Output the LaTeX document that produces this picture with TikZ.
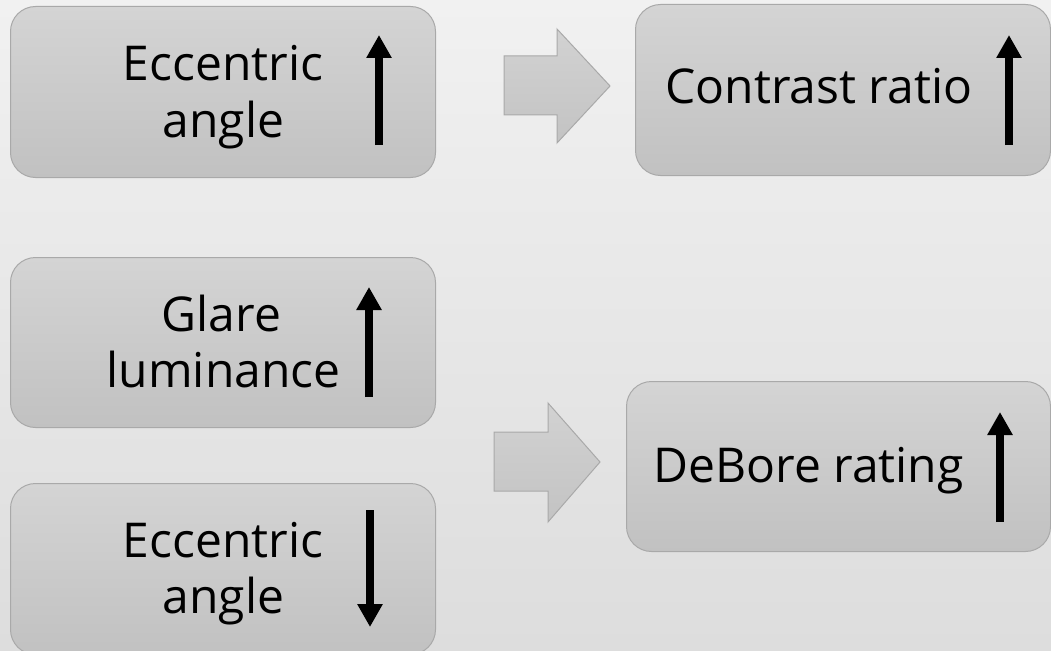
\documentclass[tikz,border=0pt]{standalone}
\usepackage{fontspec}
\setmainfont{Open Sans}
\usetikzlibrary{arrows.meta}
\definecolor{bgtop}{HTML}{F1F1F1}
\definecolor{bgbot}{HTML}{DDDDDD}
\definecolor{boxtop}{HTML}{D4D4D4}
\definecolor{boxbot}{HTML}{C1C1C1}
\definecolor{boxline}{HTML}{A9A9A9}
\definecolor{flowtop}{HTML}{D2D2D2}
\definecolor{flowbot}{HTML}{C3C3C3}
\begin{document}
\begin{tikzpicture}[x=1pt,y=-1pt,
  panel/.style={draw=boxline, line width=1pt, rounded corners=25pt,
    top color=boxtop, bottom color=boxbot, inner sep=0pt,
    anchor=north west},
  lbl/.style={anchor=base, inner sep=0pt, font=\fontsize{48}{56}\selectfont},
  trend/.style={line width=8pt, -{Triangle[width=24pt,length=23pt]}},
  flow/.style={draw=boxline, line width=1pt, top color=flowtop, bottom color=flowbot}]
\useasboundingbox (0,0) rectangle (1051,650);
\clip (0,0) rectangle (1051,650);
\shade[top color=bgtop, bottom color=bgbot] (0,0) rectangle (1051,650);

% boxes
\node[panel, minimum width=425pt, minimum height=171pt] (ecc1) at (10,6) {};
\node[panel, minimum width=415pt, minimum height=171pt] (con) at (635,4) {};
\node[panel, minimum width=425pt, minimum height=170pt] (glare) at (10,257) {};
\node[panel, minimum width=425pt, minimum height=171pt] (ecc2) at (10,483) {};
\node[panel, minimum width=424pt, minimum height=170pt] (deb) at (626,381) {};

% labels
\node[lbl] (ecc1a) at (223,81) {Eccentric};
\node[lbl] (ecc1b) at (223.5,137) {angle};
\node[lbl] (cona) at (819,103) {Contrast ratio};
\node[lbl] (glarea) at (221.5,331) {Glare};
\node[lbl] (glareb) at (223.5,387) {luminance};
\node[lbl] (ecc2a) at (223,557) {Eccentric};
\node[lbl] (ecc2b) at (223.5,613) {angle};
\node[lbl] (deba) at (808.5,482) {DeBore rating};

% trend arrows
\coordinate (u1s) at (379,145); \coordinate (u1e) at (379,35);
\coordinate (u2s) at (1009,145); \coordinate (u2e) at (1009,35);
\coordinate (u3s) at (369,397); \coordinate (u3e) at (369,287);
\coordinate (d4s) at (370,510); \coordinate (d4e) at (370,627);
\coordinate (u5s) at (1000,522); \coordinate (u5e) at (1000,412);
\draw[trend] (u1s) -- (u1e);
\draw[trend] (u2s) -- (u2e);
\draw[trend] (u3s) -- (u3e);
\draw[trend] (d4s) -- (d4e);
\draw[trend] (u5s) -- (u5e);

% block arrows between the columns
\path[flow] (504,56) -- (557,56) -- (557,29) -- (610,86) -- (557,143)
  -- (557,115) -- (504,115) -- cycle;
\path[flow] (494,432) -- (548,432) -- (548,403) -- (600,462) -- (548,522)
  -- (548,491) -- (494,491) -- cycle;
\end{tikzpicture}
\end{document}
